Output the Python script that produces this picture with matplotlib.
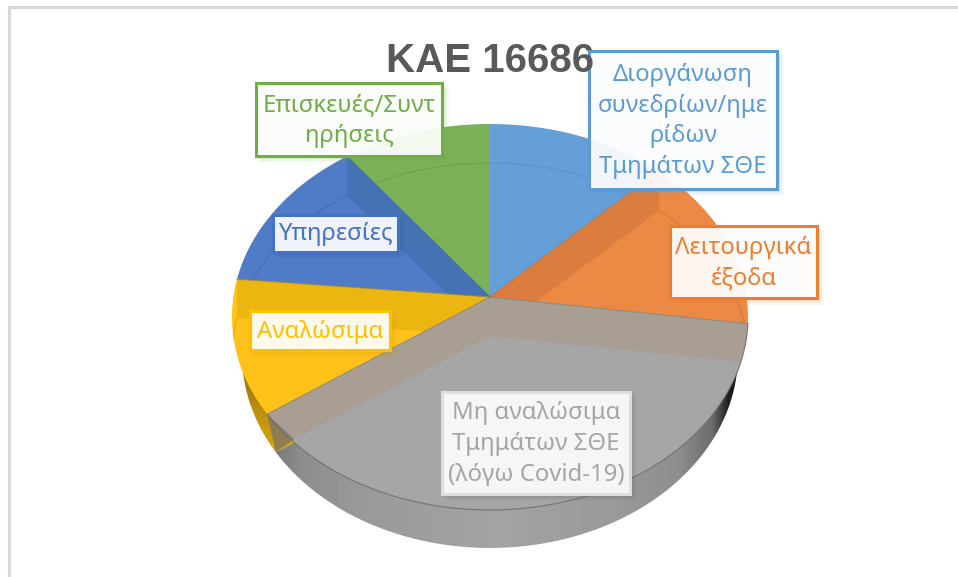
import numpy as np
import matplotlib
matplotlib.use("Agg")
import matplotlib.pyplot as plt
from matplotlib.patches import Polygon, Rectangle

# ---- data ----
categories = ["Διοργάνωση\nσυνεδρίων/ημε\nρίδων\nΤμημάτων ΣΘΕ", "Λειτουργικά\nέξοδα",
              "Μη αναλώσιμα\nΤμημάτων ΣΘΕ\n(λόγω Covid-19)", "Αναλώσιμα", "Υπηρεσίες",
              "Επισκευές/Συντ\nηρήσεις"]
values = [12.5, 14.7, 38.0, 11.3, 13.2, 10.3]
title = "ΚΑΕ 16686"

# ---- style ----
face_colors = ["#659fd7", "#ec8a45", "#a6a6a6", "#ffc21a", "#507bc7", "#7cb15a"]
wall_colors = ["#659fd7", "#da7d3e", "#a89e93", "#ecb610", "#4472b4", "#7cb15a"]
line_colors = ["#5a94cc", "#d97a38", "#a6a6a6", "#e8ad10", "#4470bb", "#6fa34e"]
text_colors = ["#5b9bd5", "#ed7d31", "#a5a5a5", "#ffc000", "#4472c4", "#70ad47"]
border_colors = ["#5b9bd5", "#ed7d31", "#dedede", "#ffc000", "#4472c4", "#70ad47"]
shadow_colors = ["#5b9bd5", "#ed7d31", "#555555", "#c79600", "#2f5597", "#70ad47"]
boxes = [(588, 50, 778, 190), (669, 225, 818, 299), (441, 391, 631, 495),
         (249, 310, 391, 351), (272, 214, 399, 253), (255, 82, 443, 157)]
FS = 17.2
LS = 1.37
DEPTH_FLOOR = 39
DEPTH_RIM = 38
RIM_SCALE = 0.961
CX, CY = 490, 297
C, K, D = 0.1036, 190.9, 256.6

fig = plt.figure(figsize=(9.58, 5.77), dpi=100)
ax = fig.add_axes([0, 0, 1, 1])
ax.axis("off")
plt.rcParams["font.family"] = ["Noto Sans", "DejaVu Sans"]


def project(theta_deg, dy=0.0, scale=1.0):
    """Perspective projection of a point on the unit circle (clockwise from top)."""
    t = np.radians(theta_deg)
    u, v = np.sin(t), np.cos(t)
    den = 1 + C * v
    return CX + scale * D * u / den, CY - K * v / den + dy


def wedge_xy(a0, a1, dy=0.0, scale=1.0, n=80):
    x, y = project(np.linspace(a0, a1, n), dy, scale)
    return np.column_stack([np.r_[CX, x], np.r_[CY + dy, y]])


cum = np.r_[0, np.cumsum(values)] / np.sum(values) * 360
starts, ends = cum[:-1], cum[1:]

# chart frame: only the top and left borders are in the picture
ax.plot([9.5, 9.5, 958], [577, 6.5, 6.5], color="#d9d9d9", lw=2.2, zorder=0,
        solid_joinstyle="miter")

# rim: gradient fills clipped to the shifted wedges
gx = np.arange(230, 752)
stops_x = [275, 300, 360, 500, 620, 680, 712, 728, 740]
stops_v = [0.47, 0.55, 0.60, 0.64, 0.60, 0.55, 0.42, 0.12, 0.05]
grad = np.interp(gx, stops_x, stops_v)[None, :]
im = ax.imshow(grad, extent=(230, 752, 560, 300), cmap="gray", vmin=0, vmax=1,
               aspect="auto", zorder=1)
im.set_clip_path(Polygon(wedge_xy(starts[2], ends[2], DEPTH_RIM, RIM_SCALE), transform=ax.transData))

gy = np.linspace(0, 1, 200)
col0 = np.array(matplotlib.colors.to_rgb("#e3ab0a"))
col1 = np.array(matplotlib.colors.to_rgb("#a47c12"))
col2 = np.array(matplotlib.colors.to_rgb("#d7a50e"))
w = np.interp(gy, [0, 0.6, 1], [0, 1, 0.4])[:, None, None]
w2 = np.interp(gy, [0, 0.6, 1], [0, 0, 1])[:, None, None]
rgb = col0 * (1 - w) + col1 * w
rgb = rgb * (1 - w2) + col2 * w2
im2 = ax.imshow(rgb, extent=(225, 300, 460, 280), aspect="auto", zorder=1)
im2.set_clip_path(Polygon(wedge_xy(starts[3], ends[3], DEPTH_RIM, RIM_SCALE), transform=ax.transData))

# faces
for i in range(len(values)):
    poly = wedge_xy(starts[i], ends[i])
    face = Polygon(poly, fc=face_colors[i], ec="none", zorder=2)
    ax.add_patch(face)
    for a in (starts[i], ends[i]):
        px, py = project(a)
        wall = Polygon([(CX, CY), (px, py), (px, py + DEPTH_FLOOR), (CX, CY + DEPTH_FLOOR)],
                       fc=wall_colors[i], ec="none", zorder=3)
        ax.add_patch(wall)
        wall.set_clip_path(face)
    ax_arc = wedge_xy(starts[i], ends[i], DEPTH_FLOOR)[1:]
    arc, = ax.plot(ax_arc[:, 0], ax_arc[:, 1], color=line_colors[i], lw=0.9, zorder=4)
    arc.set_clip_path(face)

# darker corner where the gray slice meets the yellow one
ex, ey = project(ends[2])
rx, ry = project(ends[2], DEPTH_RIM, RIM_SCALE)
sx, sy = project(ends[2], DEPTH_FLOOR)
fx, fy = CX + 0.88 * (sx - CX), CY + DEPTH_FLOOR + 0.88 * (sy - CY - DEPTH_FLOOR)
ax.add_patch(Polygon([(ex, ey), (rx, ry), (fx, fy)], fc="#77736a", ec="none", alpha=0.75, zorder=4.5))

# front arc of the gray slice and separator lines
xy = wedge_xy(starts[2], ends[2])[1:]
ax.plot(xy[:, 0], xy[:, 1], color="#6e6e6e", lw=0.9, alpha=0.8, zorder=5)
for a, c in zip(cum[1:-1], ["#c96f30", "#8a8378", "#8a8070", "#a08a40", "#3f6aa8"]):
    px, py = project(a)
    ax.plot([CX, px], [CY, py], color=c, lw=0.8, alpha=0.8, zorder=5)

# data labels
for (x0, y0, x1, y1), name, tc, bc, sc in zip(boxes, categories, text_colors, border_colors, shadow_colors):
    for off, al in ((7, 0.06), (5, 0.09), (3, 0.12)):
        ax.add_patch(Rectangle((x0 + off - 1, y0 + off - 1), x1 - x0, y1 - y0, fc=sc,
                               ec="none", alpha=al, zorder=7))
    ax.add_patch(Rectangle((x0 + 1, y0 + 1), x1 - x0 - 2, y1 - y0 - 2, fc="white", ec="none",
                           alpha=0.92, zorder=8))
    ax.add_patch(Rectangle((x0 + 1, y0 + 1), x1 - x0 - 2, y1 - y0 - 2, fc="none", ec=bc,
                           lw=2.2, zorder=8))
    ax.text((x0 + x1) / 2, (y0 + y1) / 2 + 1, name, ha="center", va="center", fontsize=FS,
            linespacing=LS, color=tc, zorder=9)

ax.text(490, 72, title, ha="center", va="baseline", fontsize=29, fontweight="bold",
        family=["Liberation Sans", "DejaVu Sans"], color="#595959", zorder=10)

ax.set_xlim(0, 958)
ax.set_ylim(577, 0)
fig.savefig("out.png", dpi=100)
